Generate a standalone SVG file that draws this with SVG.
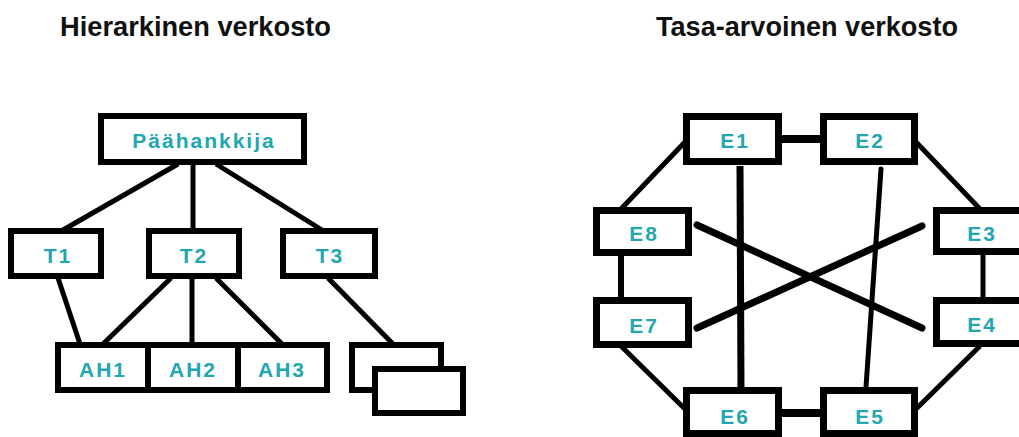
<svg xmlns="http://www.w3.org/2000/svg" width="1019" height="437" viewBox="0 0 1019 437">
  <style>
    .title { font-family: "Liberation Sans", Arial, sans-serif; font-weight: bold; font-size: 27px; fill: #111; }
    .box { fill: #fff; stroke: #000; stroke-width: 6; }
    .ebox { fill: #fff; stroke: #000; stroke-width: 7; }
    .lbl { font-family: "Liberation Sans", Arial, sans-serif; font-weight: bold; font-size: 21px; fill: #22a7b0; letter-spacing: 2px; text-anchor: middle; }
    .ln { stroke: #000; stroke-width: 5; fill: none; }
    .thick { stroke-width: 7; }
    .bar { stroke-width: 8; }
    .rnd { stroke-linecap: round; }
  </style>

  <!-- headings -->
  <text class="title" x="60" y="36" textLength="271" lengthAdjust="spacingAndGlyphs">Hierarkinen verkosto</text>
  <text class="title" x="656" y="36" textLength="302" lengthAdjust="spacingAndGlyphs">Tasa-arvoinen verkosto</text>

  <!-- connectors -->
  <g id="connectors">
    <!-- hierarchical network -->
    <line class="ln" x1="178" y1="164" x2="63" y2="230"/>
    <line class="ln" x1="193" y1="164" x2="193" y2="230"/>
    <line class="ln" x1="216" y1="164" x2="322" y2="230"/>
    <line class="ln" x1="58" y1="278" x2="80" y2="344"/>
    <line class="ln" x1="171" y1="278" x2="103" y2="344"/>
    <line class="ln" x1="192" y1="278" x2="192" y2="344"/>
    <line class="ln" x1="216" y1="278" x2="282" y2="344"/>
    <line class="ln" x1="328" y1="278" x2="393" y2="344"/>

    <!-- peer network: ring -->
    <line class="ln bar" x1="780" y1="139" x2="822" y2="139"/>
    <line class="ln bar" x1="780" y1="413" x2="822" y2="413"/>
    <line class="ln" x1="685" y1="142" x2="621" y2="209"/>
    <line class="ln" x1="916" y1="142" x2="980" y2="209"/>
    <line class="ln" x1="621" y1="254" x2="621" y2="299" style="stroke-width:6"/>
    <line class="ln" x1="983" y1="254" x2="983" y2="299"/>
    <line class="ln" x1="621" y1="346" x2="685" y2="409"/>
    <line class="ln" x1="980" y1="346" x2="916" y2="409"/>

    <!-- peer network: cross links -->
    <line class="ln thick" x1="740" y1="166" x2="741" y2="389"/>
    <line class="ln rnd" x1="881" y1="169" x2="866" y2="387"/>
    <line class="ln thick rnd" x1="697" y1="225" x2="922" y2="328"/>
    <line class="ln thick rnd" x1="697" y1="328" x2="922" y2="226"/>
  </g>

  <!-- hierarchical network nodes -->
  <g id="paahankkija">
    <rect class="box" x="101" y="116" width="203" height="46"/>
    <text class="lbl" x="204" y="148">Päähankkija</text>
  </g>
  <g id="t1">
    <rect class="box" x="11" y="231" width="90" height="45"/>
    <text class="lbl" x="58" y="263">T1</text>
  </g>
  <g id="t2">
    <rect class="box" x="149" y="231" width="90" height="45"/>
    <text class="lbl" x="194" y="263">T2</text>
  </g>
  <g id="t3">
    <rect class="box" x="283" y="231" width="92" height="45"/>
    <text class="lbl" x="330" y="263">T3</text>
  </g>
  <g id="ah1">
    <rect class="box" x="58" y="345" width="90" height="45"/>
    <text class="lbl" x="103" y="377">AH1</text>
  </g>
  <g id="ah2">
    <rect class="box" x="148" y="345" width="90" height="45"/>
    <text class="lbl" x="193" y="377">AH2</text>
  </g>
  <g id="ah3">
    <rect class="box" x="238" y="345" width="89" height="45"/>
    <text class="lbl" x="282" y="377">AH3</text>
  </g>
  <g id="sub-back">
    <rect class="box" x="352" y="345" width="89" height="45"/>
  </g>
  <g id="sub-front">
    <rect class="box" x="375" y="369" width="88" height="44"/>
  </g>

  <!-- peer network nodes -->
  <g id="e1">
    <rect class="ebox" x="686.5" y="116.5" width="92" height="45"/>
    <text class="lbl" x="735" y="148">E1</text>
  </g>
  <g id="e2">
    <rect class="ebox" x="823.5" y="116.5" width="91" height="45"/>
    <text class="lbl" x="870" y="148">E2</text>
  </g>
  <g id="e8">
    <rect class="ebox" x="596.5" y="210.5" width="92" height="42"/>
    <text class="lbl" x="644" y="241">E8</text>
  </g>
  <g id="e7">
    <rect class="ebox" x="596.5" y="300.5" width="92" height="44"/>
    <text class="lbl" x="644" y="333">E7</text>
  </g>
  <g id="e3">
    <rect class="ebox" x="936.5" y="210.5" width="91" height="41"/>
    <text class="lbl" x="982" y="241">E3</text>
  </g>
  <g id="e4">
    <rect class="ebox" x="936.5" y="300.5" width="91" height="43"/>
    <text class="lbl" x="982" y="332">E4</text>
  </g>
  <g id="e6">
    <rect class="ebox" x="686.5" y="390.5" width="92" height="43"/>
    <text class="lbl" x="735" y="424">E6</text>
  </g>
  <g id="e5">
    <rect class="ebox" x="823.5" y="390.5" width="91" height="43"/>
    <text class="lbl" x="870" y="424">E5</text>
  </g>
</svg>
